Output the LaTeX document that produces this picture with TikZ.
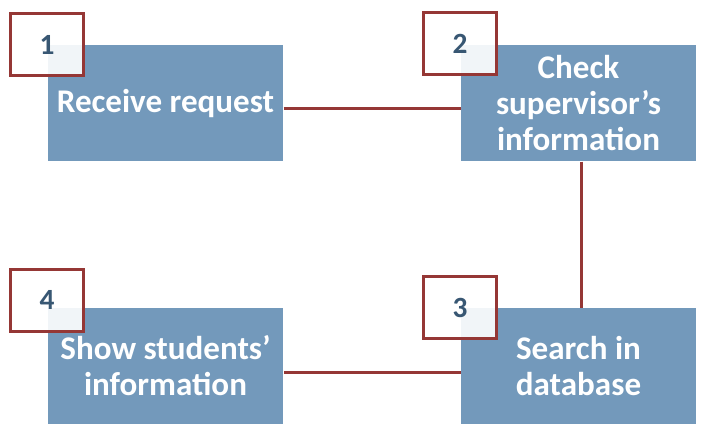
\documentclass[tikz,border=0pt]{standalone}
\usepackage{fontspec}
\setmainfont{Carlito}
\definecolor{boxblue}{RGB}{115,153,187}
\definecolor{linered}{RGB}{149,55,53}
\definecolor{numblue}{RGB}{56,87,115}
\tikzset{every picture/.style={line width=0.75pt}}
\tikzset{
  stepbox/.style={fill=boxblue, draw=none, minimum width=176.25pt, minimum height=87pt, inner sep=0pt,
    align=center, text=white, font=\fontsize{24.8pt}{27pt}\selectfont\bfseries},
  numbox/.style={fill=white, fill opacity=0.9, text opacity=1, draw=linered, line width=2.25pt,
    minimum width=54.75pt, minimum height=46.5pt, inner sep=0pt,
    text=numblue, font=\fontsize{22pt}{24pt}\selectfont\bfseries},
  link/.style={draw=linered, line width=2.25pt}
}
\begin{document}
\begin{tikzpicture}[x=0.75pt,y=0.75pt,yscale=-1,xscale=1]
\useasboundingbox (0,0) rectangle (705,436); %set diagram to 705 x 436

% Step boxes
\draw (165.5,103) node [stepbox] (recv) {Receive request};
\draw (578.5,103) node [stepbox] (check) {Check\\supervisor’s\\information};
\draw (578.5,366) node [stepbox] (search) {Search in\\database};
\draw (165.5,366) node [stepbox] (show) {Show students’\\information};

% Straight Lines
\draw [link] ([yshift=3.75pt]recv.east) -- ([yshift=3.75pt]check.west) ;
\draw [link] ([xshift=1.9pt]check.south) -- ([xshift=1.9pt]search.north) ;
\draw [link] ([yshift=4.5pt]search.west) -- ([yshift=4.5pt]show.east) ;

% Number boxes
\draw (47,44.5) node [numbox] (n1) {1};
\draw (460,43.5) node [numbox] (n2) {2};
\draw (460,307.5) node [numbox] (n3) {3};
\draw (47,300) node [numbox] (n4) {4};

\end{tikzpicture}
\end{document}
